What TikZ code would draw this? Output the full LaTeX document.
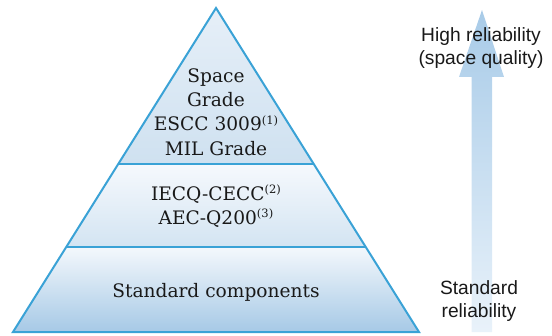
\documentclass[tikz,border=0pt]{standalone}
\usepackage{fontspec}
\setmainfont{DejaVu Serif}
\newfontfamily\labsans{Liberation Sans}
\definecolor{edgeblue}{HTML}{3AA2D6}
\definecolor{bandtopA}{HTML}{E6EFF8}
\definecolor{bandbotA}{HTML}{CFE1F0}
\definecolor{bandtopB}{HTML}{F6F9FD}
\definecolor{bandbotB}{HTML}{D3E4F2}
\definecolor{bandtopC}{HTML}{F4F8FC}
\definecolor{bandbotC}{HTML}{A6C9E6}
\definecolor{arrtop}{HTML}{A8CBE8}
\definecolor{arrbot}{HTML}{E9F2FA}
\newcommand{\refmark}[1]{\raisebox{0.7ex}{\fontsize{11.5}{11.5}\selectfont(#1)}}
\tikzset{
  bandtext/.style={align=center, font=\fontsize{18.6}{24.2}\selectfont, text=black!90, inner sep=0pt},
  sidetext/.style={align=center, font=\labsans\fontsize{19.2}{23.5}\selectfont, text=black!90, inner sep=0pt},
  outline/.style={draw=edgeblue, line width=2pt, line join=miter},
  divider/.style={draw=edgeblue, line width=1.2pt}
}
\begin{document}
\begin{tikzpicture}[x=1pt,y=1pt]
\useasboundingbox (0,0) rectangle (552,335);
% key points
\coordinate (A) at (216,327);
\coordinate (BL) at (13,3);
\coordinate (BR) at (419,3);
\coordinate (L1) at (118.3,171);
\coordinate (R1) at (313.7,171);
\coordinate (L2) at (66.3,88);
\coordinate (R2) at (365.7,88);
% bands
\shade[top color=bandtopA, bottom color=bandbotA] (A) -- (R1) -- (L1) -- cycle;
\shade[top color=bandtopB, bottom color=bandbotB] (L1) -- (R1) -- (R2) -- (L2) -- cycle;
\shade[top color=bandtopC, bottom color=bandbotC] (L2) -- (R2) -- (BR) -- (BL) -- cycle;
\draw[divider] (L1) -- (R1);
\draw[divider] (L2) -- (R2);
\draw[outline] (A) -- (BR) -- (BL) -- cycle;
% arrow
\coordinate (s1) at (471.5,3);
\coordinate (s2) at (492,3);
\coordinate (s3) at (492,258);
\coordinate (h1) at (504,258);
\coordinate (tip) at (482,325);
\coordinate (h2) at (459,258);
\coordinate (s4) at (471.5,258);
\shade[top color=arrtop, bottom color=arrbot] (s1) -- (s2) -- (s3) -- (h1) -- (tip) -- (h2) -- (s4) -- cycle;
% texts
\node[bandtext] (top) at (216,223) {Space\\Grade\\ESCC 3009\refmark{1}\\MIL Grade};
\node[bandtext] (mid) at (216,129) {IECQ-CECC\refmark{2}\\AEC-Q200\refmark{3}};
\node[bandtext] (bot) at (216,43) {Standard components};
\node[sidetext] (high) at (481,287) {High reliability\\(space quality)};
\node[sidetext] (std) at (479,34) {Standard\\reliability};
\end{tikzpicture}
\end{document}
